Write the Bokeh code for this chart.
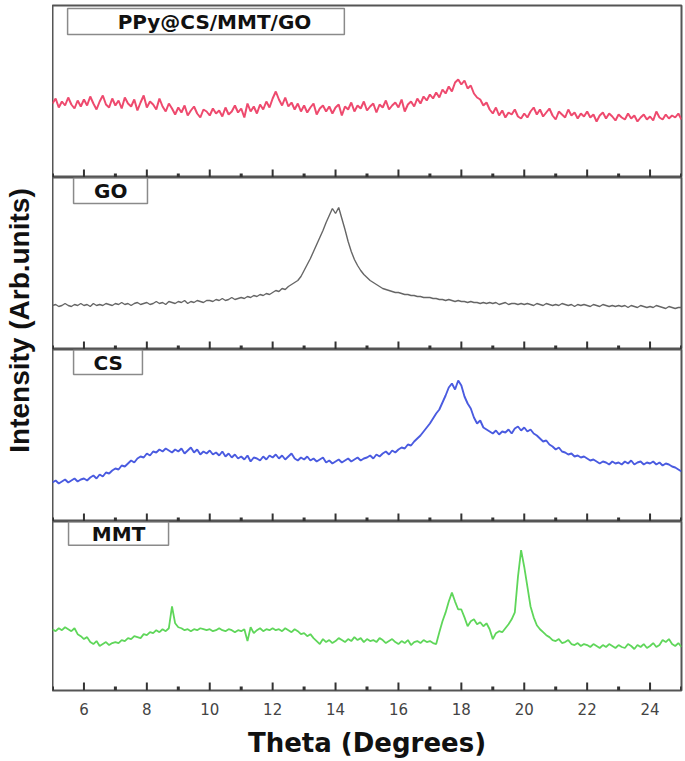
import numpy as np
from bokeh.plotting import figure
from bokeh.models import Range1d, FixedTicker, BoxAnnotation, Label, ColumnDataSource
from bokeh.layouts import row, column
from bokeh.embed import file_html
from bokeh.resources import INLINE

# ---------------- data ----------------
theta = np.round(np.linspace(5.0, 25.0, 201), 1)

ppy = [
    74, 79, 70, 76, 72, 80, 73, 69, 77, 71,
    78, 72, 81, 74, 68, 76, 82, 73, 70, 79,
    72, 77, 69, 80, 74, 71, 78, 67, 75, 82,
    70, 76, 73, 68, 79, 71, 66, 74, 69, 63,
    70, 65, 72, 62, 67, 71, 64, 60, 68, 66,
    62, 69, 64, 67, 61, 70, 63, 66, 72, 65,
    69, 60, 74, 66, 71, 64, 73, 68, 76, 70,
    79, 86, 78, 72, 80, 71, 75, 68, 74, 66,
    72, 65, 70, 74, 63, 69, 72, 66, 71, 64,
    70, 73, 62, 71, 68, 75, 66, 72, 69, 76,
    67, 71, 74, 65, 73, 70, 77, 68, 72, 75,
    70, 78, 66, 73, 76, 71, 79, 74, 81, 77,
    83, 79, 85, 80, 88, 84, 91, 86, 95, 98,
    93, 97, 89, 92, 84, 80, 78, 72, 75, 68,
    64, 70, 62, 67, 60, 65, 63, 68, 61, 59,
    64, 60, 66, 70, 63, 68, 61, 65, 69, 62,
    58, 66, 63, 60, 68, 62, 65, 59, 64, 61,
    66, 60, 63, 56, 62, 65, 59, 64, 61, 57,
    63, 60, 58, 64, 59, 62, 56, 60, 63, 58,
    61, 57, 66, 60, 58, 63, 59, 62, 60, 64,
    58,
]

go = [
    44, 45, 43, 44, 46, 44, 43, 45, 44, 46,
    44, 45, 43, 46, 44, 45, 44, 46, 45, 44,
    46, 45, 47, 45, 46, 44, 46, 47, 45, 46,
    47, 45, 46, 48, 46, 47, 45, 48, 47, 46,
    48, 47, 49, 46, 48, 47, 49, 48, 47, 49,
    49, 48, 50, 49, 51, 49, 50, 52, 50, 51,
    52, 51, 53, 52, 54, 53, 55, 54, 56, 55,
    57, 59, 58, 61, 60, 63, 65, 67, 69, 73,
    79, 85, 91, 98, 105, 112, 119, 127, 134, 141,
    136, 142, 131, 120, 108, 98, 90, 84, 79, 75,
    72, 69, 67, 65, 63, 61, 60, 59, 58, 57,
    57, 56, 55, 55, 54, 54, 53, 53, 52, 52,
    52, 51, 51, 50, 50, 49, 50, 49, 48, 49,
    48, 48, 47, 48, 47, 47, 46, 47, 46, 47,
    46, 47, 45, 46, 47, 45, 46, 46, 45, 46,
    45, 46, 45, 44, 46, 45, 44, 46, 45, 44,
    45, 44, 46, 45, 44, 45, 43, 45, 44, 45,
    44, 43, 45, 44, 43, 45, 44, 43, 44, 43,
    44, 43, 44, 42, 44, 43, 42, 44, 43, 42,
    43, 42, 44, 43, 42, 41, 43, 42, 41, 42,
    42,
]

cs = [
    39, 41, 38, 40, 42, 39, 41, 43, 40, 42,
    43, 41, 44, 46, 43, 47, 45, 49, 48, 51,
    53, 52, 56, 55, 58, 61, 59, 63, 65, 64,
    68, 66, 70, 69, 72, 70, 73, 71, 69, 72,
    70, 73, 68, 71, 74, 69, 72, 67, 70, 68,
    71, 67, 69, 66, 70, 65, 68, 64, 67, 63,
    65, 62, 66, 60, 64, 63, 61, 65, 62, 66,
    64, 67, 63, 66, 62, 65, 68, 63, 61, 64,
    62, 65, 61, 63, 60, 62, 64, 59, 61, 58,
    60, 62, 59, 61, 63, 60, 62, 64, 61, 63,
    64, 66, 63, 67, 65, 68, 70, 67, 71, 69,
    72, 74, 73, 77, 76, 80, 83, 86, 90, 94,
    98, 103, 108, 112, 119, 126, 134, 138, 132, 141,
    136, 125, 118, 113, 104, 98, 101, 94, 92, 90,
    88, 91, 87, 90, 89, 92, 88, 93, 95, 91,
    94, 90, 92, 88, 86, 83, 80, 81, 77, 75,
    72, 74, 70, 69, 67, 68, 65, 66, 64, 65,
    63, 61, 62, 60, 58, 60, 59, 57, 60, 58,
    59, 57, 60, 58, 61, 57, 59, 60, 57, 59,
    58, 60, 57, 59, 56, 58, 57, 55, 54, 52,
    50,
]

mmt = [
    62, 60, 63, 61, 64, 62, 60, 63, 57, 55,
    52, 54, 49, 47, 50, 45, 47, 49, 46, 48,
    49, 48, 51, 50, 53, 52, 55, 54, 53, 57,
    56, 59, 58, 61, 59, 62, 60, 63, 85, 68,
    64, 63, 61, 62, 60, 62, 61, 63, 62, 61,
    62, 60, 61, 63, 61, 60, 62, 61, 59, 61,
    60, 62, 50, 64, 58, 61, 63, 60, 62, 61,
    63, 61, 62, 60, 63, 61, 59, 62, 60, 57,
    58, 55, 57, 53, 50, 47, 52, 49, 51, 48,
    50, 53, 51, 49, 52, 50, 54, 51, 53, 49,
    52, 50, 51, 49, 53, 51, 48, 50, 52, 49,
    47, 50, 48, 51, 46, 49, 50, 48, 51, 49,
    50, 48, 47, 59, 70, 79, 90, 99, 90, 82,
    82, 74, 65, 70, 72, 67, 69, 65, 68, 62,
    52, 58, 60, 59, 63, 67, 72, 79, 115, 142,
    125, 105, 85, 74, 66, 62, 59, 56, 54, 51,
    50, 52, 48, 49, 51, 47, 46, 48, 45, 47,
    46, 44, 47, 45, 43, 46, 44, 47, 45, 43,
    46, 44, 43, 47, 45, 42, 46, 44, 47, 43,
    45, 48, 44, 46, 51, 49, 52, 47, 45, 48,
    44,
]

major_ticks = [6, 8, 10, 12, 14, 16, 18, 20, 22, 24]
minor_ticks = [5, 7, 9, 11, 13, 15, 17, 19, 21, 23, 25]
names = ["PPy@CS/MMT/GO", "GO", "CS", "MMT"]

# ---------------- styling / layout ----------------
colors = ["#ee4a6e", "#666666", "#4a5be0", "#5fd65a"]
widths = [2.0, 1.4, 1.9, 1.8]
series = [ppy, go, cs, mmt]
frame_h = [172, 172, 172, 171]
top_pad = [5, 0, 0, 0]
bottom_pad = [0, 0, 0, 68]
MAJOR_LEN, MINOR_LEN = 8, 4   # tick lengths (1 data unit == 1 px in every panel)
# legend box (left, right, bottom, top) and label centre, in data units
boxes = [(5.48, 14.28, 143, 169), (5.67, 8.02, 146, 171.5),
         (5.67, 7.86, 147, 171.5), (5.51, 8.69, 147, 170.5)]
label_pos = [(10.15, 156), (6.85, 158.5), (6.77, 159), (7.1, 158.5)]

x_range = Range1d(5, 25)
FRAME_COLOR = "#555555"
TICK_COLOR = "#333333"
panels = []
for i in range(4):
    last = (i == 3)
    h = frame_h[i] + top_pad[i] + bottom_pad[i]
    p = figure(width=632, height=h, x_range=x_range, y_range=Range1d(0, frame_h[i]),
               y_axis_location=None, x_axis_location=("below" if last else None),
               toolbar_location=None, output_backend="svg",
               min_border_left=0, min_border_right=3, min_border_top=top_pad[i],
               min_border_bottom=0)
    p.outline_line_color = FRAME_COLOR
    p.outline_line_width = 2
    p.outline_line_alpha = 1
    p.grid.visible = False
    p.background_fill_color = "white"
    p.border_fill_color = "white"
    if last:
        ax = p.xaxis[0]
        ax.ticker = FixedTicker(ticks=major_ticks, minor_ticks=minor_ticks)
        ax.axis_line_color = None
        ax.major_tick_line_color = None
        ax.minor_tick_line_color = None
        ax.major_tick_out = 0
        ax.minor_tick_out = 0
        ax.major_label_text_font = "DejaVu Sans"
        ax.major_label_text_font_size = "15px"
        ax.major_label_text_color = "#444444"
        ax.major_label_standoff = 12
        ax.axis_label = "Theta (Degrees)"
        ax.axis_label_text_font = "DejaVu Sans"
        ax.axis_label_text_font_style = "bold"
        ax.axis_label_text_font_size = "26px"
        ax.axis_label_text_color = "#111111"
        ax.axis_label_standoff = 10
    src = ColumnDataSource(dict(x=theta, y=series[i]))
    p.line("x", "y", source=src, line_color=colors[i], line_width=widths[i])
    # inward tick marks along the panel's bottom edge
    tick_src = ColumnDataSource(dict(x=major_ticks, y0=[0] * len(major_ticks),
                                     y1=[MAJOR_LEN] * len(major_ticks)))
    p.segment(x0="x", y0="y0", x1="x", y1="y1", source=tick_src,
              line_color=TICK_COLOR, line_width=2)
    mtick_src = ColumnDataSource(dict(x=minor_ticks, y0=[0] * len(minor_ticks),
                                      y1=[MINOR_LEN] * len(minor_ticks)))
    p.segment(x0="x", y0="y0", x1="x", y1="y1", source=mtick_src,
              line_color=TICK_COLOR, line_width=3)
    l, r, b, t = boxes[i]
    p.add_layout(BoxAnnotation(left=l, right=r, bottom=b, top=t,
                               fill_color="white", fill_alpha=1,
                               line_color="#8a8a8a", line_alpha=1, line_width=1.5))
    lx, ly = label_pos[i]
    p.add_layout(Label(x=lx, y=ly, text=names[i], text_align="center",
                       text_baseline="middle", text_font="DejaVu Sans",
                       text_font_style="bold", text_font_size="20px",
                       text_color="#111111"))
    panels.append(p)

total_h = sum(frame_h) + sum(top_pad) + sum(bottom_pad)
lab = figure(width=52, height=total_h, x_range=Range1d(0, 1), y_range=Range1d(0, 1),
             x_axis_location=None, y_axis_location="left", toolbar_location=None,
             output_backend="svg", min_border_left=0, min_border_right=0,
             min_border_top=0, min_border_bottom=total_h - 640)
lab.outline_line_color = None
lab.grid.visible = False
ya = lab.yaxis[0]
ya.axis_label = "Intensity (Arb.units)"
ya.axis_label_text_font = "Liberation Sans"
ya.axis_label_text_font_style = "bold"
ya.axis_label_text_font_size = "28px"
ya.axis_label_text_color = "#111111"
ya.axis_label_standoff = 0
ya.major_label_text_font_size = "0px"
ya.major_label_standoff = 0
ya.major_tick_line_color = None
ya.minor_tick_line_color = None
ya.major_tick_out = 0
ya.minor_tick_out = 0
ya.axis_line_color = None
ya.ticker = FixedTicker(ticks=[])

p = row(lab, column(*panels, spacing=0), spacing=0)
open("out.html", "w").write(file_html(p, INLINE))
